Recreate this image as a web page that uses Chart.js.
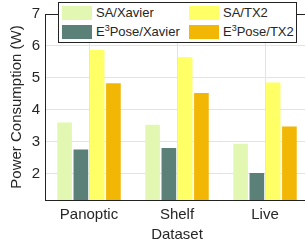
<!DOCTYPE html>
<html>
<head>
<meta charset="utf-8">
<script src="https://cdn.jsdelivr.net/npm/chart.js@4/dist/chart.umd.min.js"></script>
<style>
  body { margin: 0; overflow: hidden; background: #fff; font-family: "Liberation Sans", Arial, sans-serif; }
  #wrap { position: relative; width: 309px; height: 250px; }
  #legend {
    position: absolute; left: 58px; top: 2px; width: 237px; height: 39px;
    background: #fff; border: 1px solid #222; font-size: 13px; color: #262626;
  }
  .item { position: absolute; height: 14px; line-height: 14px; white-space: nowrap; }
  .sw { position: absolute; left: 0; top: 0; width: 30px; height: 14px; }
  .lbl { position: absolute; left: 34px; top: 0; }
  .lbl sup { font-size: 9px; line-height: 0; }
</style>
</head>
<body>
<div id="wrap">
  <canvas id="powerChart"></canvas>
  <div id="legend"></div>
</div>
<script>
const datasets_ = ['Panoptic', 'Shelf', 'Live'];
const seriesNames = ['SA/Xavier', 'E³Pose/Xavier', 'SA/TX2', 'E³Pose/TX2'];
const saXavier = [3.60, 3.53, 2.93];
const e3Xavier = [2.75, 2.80, 2.02];
const saTX2 = [5.87, 5.65, 4.85];
const e3TX2 = [4.83, 4.52, 3.47];
const seriesColors = ['#e2f8b2', '#5a8078', '#ffff66', '#f2b705'];

const seriesValues = [saXavier, e3Xavier, saTX2, e3TX2];

// 上方边框
const topBorder = {
  id: 'topBorder',
  afterDraw(chart) {
    const { ctx, chartArea } = chart;
    ctx.save();
    ctx.strokeStyle = '#222';
    ctx.lineWidth = 1;
    ctx.beginPath();
    ctx.moveTo(chartArea.left, chartArea.top + 0.5);
    ctx.lineTo(chartArea.right, chartArea.top + 0.5);
    ctx.stroke();
    ctx.restore();
  }
};

const ctx = document.getElementById('powerChart').getContext('2d');
const chart = new Chart(ctx, {
  type: 'bar',
  data: {
    labels: datasets_,
    datasets: seriesNames.map((name, i) => ({
      label: name,
      data: seriesValues[i],
      backgroundColor: seriesColors[i],
      borderWidth: 0,
      categoryPercentage: 0.74,
      barPercentage: 0.9
    }))
  },
  options: {
    responsive: true,
    maintainAspectRatio: false,
    animation: false,
    layout: { padding: { top: 10, left: 0, right: 0, bottom: 0 } },
    plugins: { legend: { display: false }, tooltip: { enabled: false } },
    scales: {
      x: {
        grid: { offset: false, color: '#e3e3e3', drawTicks: false },
        border: { color: '#222', width: 1 },
        ticks: { color: '#262626', font: { size: 15, family: 'Liberation Sans' }, padding: 6 },
        title: { display: true, text: 'Dataset', color: '#262626', font: { size: 15, family: 'Liberation Sans' }, padding: { top: 0, bottom: 6 } },
        afterFit: s => { s.height = 50; }
      },
      y: {
        min: 1.17,
        max: 7,
        afterBuildTicks: s => { s.ticks = s.ticks.filter(t => Number.isInteger(t.value)); },
        grid: { color: '#e3e3e3', drawTicks: false },
        border: { color: '#222', width: 1 },
        ticks: { stepSize: 1, color: '#262626', font: { size: 15, family: 'Liberation Sans' }, padding: 5 },
        title: { display: true, text: 'Power Consumption (W)', color: '#262626', font: { size: 15, family: 'Liberation Sans' }, padding: { top: 8, bottom: 0 } },
        afterFit: s => { s.width = 45; }
      }
    }
  },
  plugins: [topBorder]
});

// 图例（两列，按列排列）
const legendEl = document.getElementById('legend');
const spots = [[3, 3], [3, 22], [130, 3], [130, 22]];
chart.data.datasets.forEach((ds, i) => {
  const item = document.createElement('div');
  item.className = 'item';
  item.style.left = spots[i][0] + 'px';
  item.style.top = spots[i][1] + 'px';
  item.innerHTML = '<span class="sw" style="background:' + ds.backgroundColor + '"></span>' +
    '<span class="lbl">' + ds.label.replace('³', '<sup>3</sup>') + '</span>';
  legendEl.appendChild(item);
});
</script>
</body>
</html>
